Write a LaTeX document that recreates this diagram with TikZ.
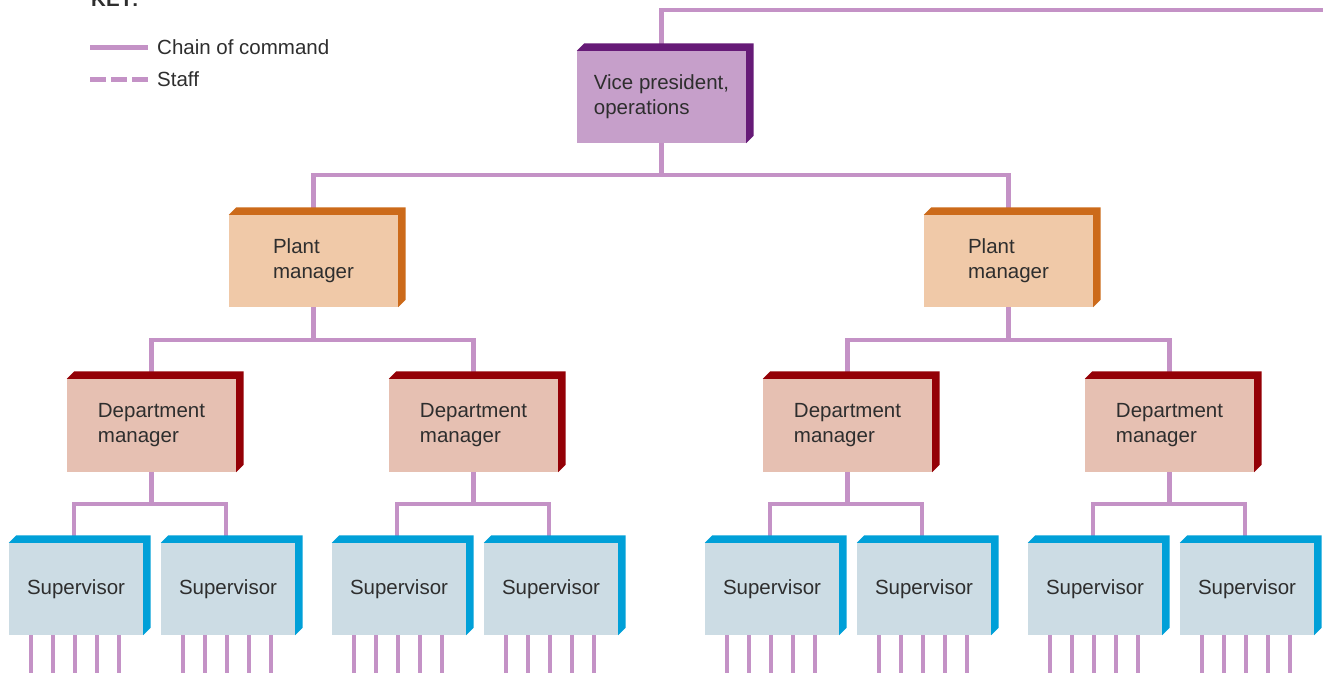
\documentclass[tikz,border=0pt]{standalone}
\usepackage{fontspec}
\setmainfont{Liberation Sans}
\usetikzlibrary{calc}
\definecolor{linec}{HTML}{C492C6}
\definecolor{txt}{HTML}{2E2E2E}
\definecolor{vpf}{HTML}{C69FCA}
\definecolor{vpd}{HTML}{661A77}
\definecolor{plf}{HTML}{F0C9A8}
\definecolor{pld}{HTML}{CC6A1A}
\definecolor{dmf}{HTML}{E6C0B2}
\definecolor{dmd}{HTML}{940006}
\definecolor{suf}{HTML}{CCDCE4}
\definecolor{sud}{HTML}{00A0D8}
\newcommand\bevelbox[2]{\fill[#2] (#1.north west) -- ++(7.5,-7.5) -- ([shift={(7.5,-7.5)}]#1.north east) -- ([shift={(7.5,-7.5)}]#1.south east) -- (#1.south east) -- (#1.north east) -- cycle;}
\begin{document}
\begin{tikzpicture}[x=1pt,y=-1pt,
  box/.style={inner sep=0pt, minimum width=169, minimum height=92, align=left, text=txt, font=\fontsize{20.5}{25}\selectfont},
  vpbox/.style={box, fill=vpf},
  plbox/.style={box, fill=plf},
  dmbox/.style={box, fill=dmf, minimum height=93},
  subox/.style={box, fill=suf, minimum width=134},
  cmd/.style={draw=linec, line width=4.5},
  staff/.style={cmd, dash pattern=on 16 off 5},
  keytext/.style={anchor=base west, inner sep=0pt, text=txt, font=\fontsize{20.5}{25}\selectfont}]
\useasboundingbox (0,0) rectangle (1323,678);
\fill[white] (0,0) rectangle (1323,678);
% key
\node[keytext, font=\fontsize{20.5}{25}\selectfont\bfseries] (keyt) at (91,6) {KEY:};
\coordinate (k1a) at (90,47.5); \coordinate (k1b) at (148,47.5);
\coordinate (k2a) at (90,79.5); \coordinate (k2b) at (148,79.5);
\draw[cmd] (k1a) -- (k1b);
\draw[staff] (k2a) -- (k2b);
\node[keytext] (kc) at (157,54) {Chain of command};
\node[keytext] (ks) at (157,86) {Staff};
% nodes
\node[vpbox] (vp) at (661.5,97) {Vice president,\\operations};
\node[plbox] (pl) at (313.5,261) {Plant\\manager};
\node[plbox] (pr) at (1008.5,261) {Plant\\manager};
\node[dmbox] (d1) at (151.5,425.5) {Department\\manager};
\node[dmbox] (d2) at (473.5,425.5) {Department\\manager};
\node[dmbox] (d3) at (847.5,425.5) {Department\\manager};
\node[dmbox] (d4) at (1169.5,425.5) {Department\\manager};
\foreach \n/\x in {s1/76,s2/228,s3/399,s4/551,s5/772,s6/924,s7/1095,s8/1247}
  \node[subox] (\n) at (\x,589) {Supervisor};
% connectors
\coordinate (topright) at (1330,10);
\draw[cmd] (vp.north) |- (topright);
\draw[cmd] (vp.south) -- ++(0,32);
\draw[cmd] (pl.north) |- ($(vp.south)+(0,32)$) -| (pr.north);
\draw[cmd] (pl.south) -- ++(0,33);
\draw[cmd] (d1.north) |- ($(pl.south)+(0,33)$) -| (d2.north);
\draw[cmd] (pr.south) -- ++(0,33);
\draw[cmd] (d3.north) |- ($(pr.south)+(0,33)$) -| (d4.north);
\foreach \d/\a/\b in {d1/s1/s2,d2/s3/s4,d3/s5/s6,d4/s7/s8}{
  \draw[cmd] (\d.south) -- ++(0,32);
  \draw[cmd] ([xshift=-2]\a.north) |- ($(\d.south)+(0,32)$) -| ([xshift=-2]\b.north);
}
\foreach \n in {s1,s2,s3,s4,s5,s6,s7,s8}
  \foreach \dx in {-45,-23,-1,21,43}
    \draw[cmd] ([xshift=\dx]\n.south) -- ++(0,38);
% bevels
\bevelbox{vp}{vpd}
\bevelbox{pl}{pld}
\bevelbox{pr}{pld}
\foreach \n in {d1,d2,d3,d4}{\bevelbox{\n}{dmd}}
\foreach \n in {s1,s2,s3,s4,s5,s6,s7,s8}{\bevelbox{\n}{sud}}
\end{tikzpicture}
\end{document}
